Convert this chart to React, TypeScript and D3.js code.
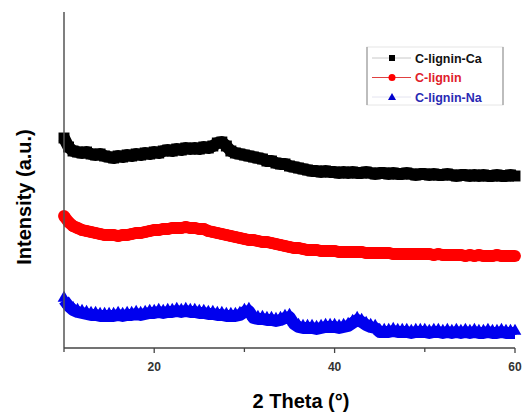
import React from 'react'
import * as d3 from 'd3'

// 2θ grid of the scans (step 0.5°)
const twoTheta: number[] = d3.range(10, 60.01, 0.5)

// intensities (a.u., stacked offsets included)
const ligninCa = [
	210, 201, 197, 196, 195, 196, 194, 193, 194, 192,
	191, 190, 192, 191, 193, 192, 194, 193, 195, 194,
	196, 195, 197, 198, 197, 199, 198, 200, 199, 200,
	199, 201, 200, 202, 205, 206, 202, 197, 195, 194,
	193, 192, 191, 190, 189, 187, 187, 185, 184, 184,
	182, 181, 180, 179, 178, 177, 177, 176, 177, 176,
	176, 175, 176, 175, 176, 175, 175, 176, 175, 174,
	175, 175, 174, 175, 174, 174, 175, 174, 173, 174,
	174, 173, 174, 173, 173, 174, 173, 172, 173, 173,
	172, 173, 172, 173, 172, 172, 173, 172, 172, 173,
	172,
]
const lignin = [
	132, 126, 122, 120, 118, 117, 116, 115, 114, 113,
	113, 113, 112, 113, 113, 114, 115, 115, 116, 117,
	118, 118, 119, 119, 120, 120, 120, 121, 120, 120,
	119, 119, 117, 116, 115, 114, 113, 112, 111, 110,
	109, 108, 108, 107, 106, 106, 105, 104, 103, 102,
	101, 100, 100, 99, 98, 98, 98, 97, 97, 97,
	97, 96, 96, 96, 96, 96, 96, 95, 95, 95,
	95, 95, 95, 94, 94, 94, 94, 94, 94, 94,
	94, 94, 93, 94, 93, 93, 93, 93, 93, 92,
	93, 92, 93, 92, 92, 92, 93, 92, 92, 92,
	92,
]
const ligninNa = [
	48, 42, 38, 36, 35, 34, 33, 33, 32, 32,
	32, 32, 33, 32, 33, 33, 34, 33, 34, 35,
	35, 36, 35, 36, 36, 37, 36, 37, 36, 36,
	35, 35, 34, 34, 33, 33, 32, 32, 32, 33,
	36, 37, 30, 29, 29, 28, 28, 27, 28, 30,
	31, 24, 21, 20, 20, 20, 19, 20, 21, 21,
	21, 20, 21, 22, 25, 28, 26, 23, 21, 20,
	16, 16, 16, 17, 16, 16, 16, 15, 16, 16,
	16, 15, 16, 16, 15, 16, 15, 16, 15, 16,
	15, 16, 15, 15, 16, 15, 15, 16, 15, 15,
	15,
]

const seriesNames = ['C-lignin-Ca', 'C-lignin', 'C-lignin-Na']
const seriesColors = ['#000000', '#ff0000', '#0000ee']
const legendTextColors = ['#111111', '#e0202a', '#2a2ab4']
const legendLineColors = ['#c8c8c8', '#e04040', '#e4e4f0']
const xTicks = [10, 20, 30, 40, 50, 60]
const xTickLabels = ['', '20', '', '40', '', '60']

const W = 524
const H = 414
const margin = { top: 12, right: 9, bottom: 66, left: 64 }

export default function App() {
	const x = d3.scaleLinear().domain([10, 60]).range([margin.left, W - margin.right])
	const y = d3.scaleLinear().domain([0, 336]).range([H - margin.bottom, margin.top])

	const line = d3
		.line<number>()
		.x((_, i) => x(twoTheta[i]))
		.y(d => y(d))

	const symbols = [d3.symbolSquare, d3.symbolCircle, d3.symbolTriangle]
	const symbolSizes = [120, 110, 70]
	const all = [ligninCa, lignin, ligninNa]
	const axisY = H - margin.bottom
	const font = '"Liberation Sans", Arial, sans-serif'

	return (
		<svg width={W} height={H} style={{ position: 'absolute', left: 0, top: 0, background: '#fff' }}>
			{/* traces: dense markers on a thick line */}
			{all.map((s, k) => {
				const sym = d3.symbol().type(symbols[k]).size(symbolSizes[k])()
				return (
					<g key={k} fill={seriesColors[k]}>
						<path
							d={line(s) || ''}
							fill="none"
							stroke={seriesColors[k]}
							strokeWidth={12}
							strokeLinejoin="round"
						/>
						{s.map((v, i) => (
							<path key={i} d={sym || ''} transform={`translate(${x(twoTheta[i])},${y(v) - (k === 2 ? 2 : 0)})`} />
						))}
					</g>
				)
			})}

			{/* axes */}
			<line x1={margin.left} x2={margin.left} y1={margin.top} y2={axisY} stroke="#555" strokeWidth={1.5} />
			<line x1={margin.left} x2={W - margin.right} y1={axisY} y2={axisY} stroke="#444" strokeWidth={1.5} />
			{xTicks.map((t, i) => (
				<g key={t} transform={`translate(${x(t)},${axisY})`}>
					<line y1={0} y2={xTickLabels[i] ? 5 : 4} stroke="#444" strokeWidth={1.3} />
					<text
						y={23}
						textAnchor="middle"
						fontFamily={font}
						fontWeight="bold"
						fontSize={12}
						fill="#333"
					>
						{xTickLabels[i]}
					</text>
				</g>
			))}

			<text x={301} y={408} textAnchor="middle" fontFamily={font} fontWeight="bold" fontSize={20} fill="#000">
				2 Theta (°)
			</text>
			<text
				transform="translate(31,197) rotate(-90)"
				textAnchor="middle"
				fontFamily={font}
				fontWeight="bold"
				fontSize={20}
				fill="#000"
			>
				Intensity (a.u.)
			</text>

			{/* legend */}
			<g>
				<rect x={367} y={47} width={136} height={58} fill="#fff" stroke="#e6e6e6" strokeWidth={1} />
				<line x1={367} x2={367} y1={47} y2={105} stroke="#999" strokeWidth={1.2} />
				<line x1={503} x2={503} y1={47} y2={105} stroke="#999" strokeWidth={1.2} />
				{seriesNames.map((name, i) => {
					const ly = 58 + i * 19.5
					return (
						<g key={name}>
							<line x1={372} x2={411} y1={ly} y2={ly} stroke={legendLineColors[i]} strokeWidth={1} />
							{i === 0 && <rect x={389} y={ly - 3} width={6} height={6} fill="#000" />}
							{i === 1 && <circle cx={392} cy={ly} r={3.5} fill="#ff0000" />}
							{i === 2 && <path d={`M392,${ly - 4}L396,${ly + 3}L388,${ly + 3}Z`} fill="#0000cc" />}
							<text
								x={415}
								y={ly + 4.5}
								fontFamily={font}
								fontWeight="bold"
								fontSize={12.5}
								fill={legendTextColors[i]}
							>
								{name}
							</text>
						</g>
					)
				})}
			</g>
		</svg>
	)
}
